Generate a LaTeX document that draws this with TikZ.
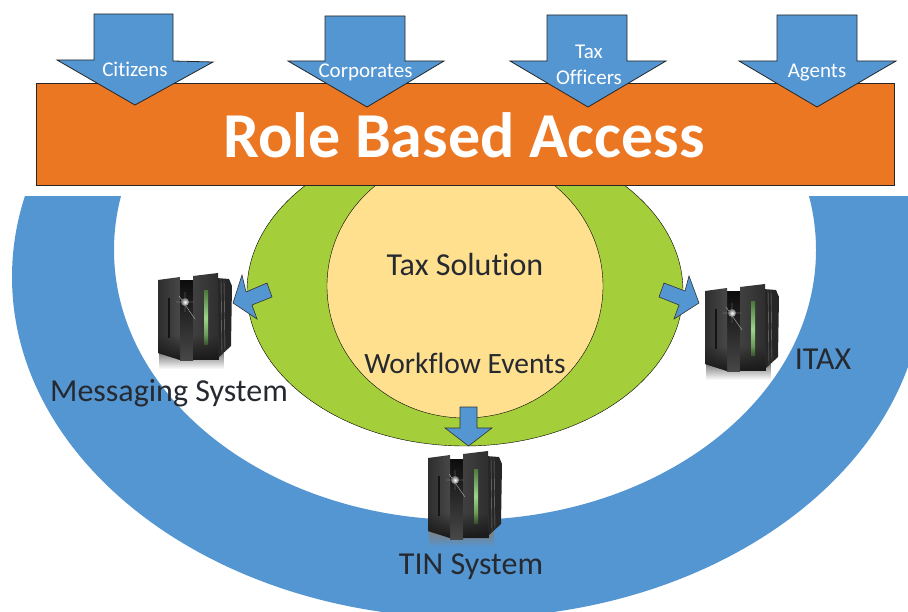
\documentclass[tikz,border=0pt]{standalone}
\usepackage{fontspec}
\setmainfont{Carlito}[Ligatures=NoCommon]
\usetikzlibrary{fadings}
\definecolor{bandblue}{HTML}{5496D2}
\definecolor{ovalgreen}{HTML}{A5CF3A}
\definecolor{coreyellow}{HTML}{FFE08F}
\definecolor{barorange}{HTML}{EC7723}
\definecolor{inkdark}{HTML}{262A30}
\definecolor{stripgreen}{HTML}{4E7A3C}
\definecolor{stripglow}{HTML}{9BD58A}
\tikzset{
	oval/.style={draw=black, thin},
	roofarrow/.style={draw=black!85, line width=0.8pt, fill=bandblue, line join=miter},
	sidearrow/.style={draw=black!80, line width=0.6pt, fill=bandblue, line join=miter},
	armlabel/.style={text=white, font=\fontsize{21}{23}\selectfont, align=center, inner sep=0pt},
	syslabel/.style={text=inkdark, font=\fontsize{32}{34}\selectfont, inner sep=0pt},
	pics/serverbox/.style={code={
		% shadow under the box
		\fill[black!50, path fading=south] (1,80) rectangle (66,96);
		% side panel
		\fill[black!85] (58,5) -- (71,6) -- (74,13) -- (73,73) -- (60,85) -- cycle;
		\draw[black!50, line width=0.4pt] (63,6) -- (64,81) (66,7) -- (67,78);
		% middle gap
		\shade[top color=black!95, bottom color=black!72] (22,8) rectangle (35,88);
		% right door
		\shade[left color=black!75, middle color=black!48, right color=black!82] (35,3) -- (60,0) -- (61,87) -- (35,87) -- cycle;
		\shade[top color=stripgreen, bottom color=stripgreen, middle color=stripglow] (46,18) rectangle (50,72);
		% left door
		\shade[left color=black!82, middle color=black!52, right color=black!72] (0,7) -- (22,4) -- (22,87) -- (0,80) -- cycle;
		\fill[black!92] (10,25) rectangle (12,65);
		% lower part of the doors goes dark
		\fill[black!90, path fading=north] (0,62) -- (22,62) -- (22,87) -- (0,80) -- cycle;
		\fill[black!90, path fading=north] (35,62) -- (60,62) -- (61,87) -- (35,87) -- cycle;
		% glint
		\draw[black!25, line width=0.35pt] (18,29) -- (36,29) (27,19) -- (27,39) (21,23) -- (37,46);
		\shade[inner color=white, middle color=white, outer color=black!60] (27,29) circle (4);
	}},
}
\begin{document}
\begin{tikzpicture}[x=1pt, y=-1pt]
	\useasboundingbox (0,0) rectangle (908,612);

	% outer band
	\begin{scope}
		\clip (0,197) rectangle (908,612);
		\fill[bandblue, even odd rule] (468,277) ellipse [x radius=456, y radius=341]
			(465,250) ellipse [x radius=351, y radius=270];
	\end{scope}

	\path[oval, fill=ovalgreen] (465,291) ellipse [x radius=218, y radius=155];
	\path[oval, fill=coreyellow] (465,286) ellipse [x radius=138, y radius=132];

	\path[draw=black!85, line width=0.8pt, fill=barorange] (36,83) rectangle (894,185);

	\path[roofarrow] (94,14) -- (173,14) -- (173,61) -- (213,62) -- (135,105) -- (57,60) -- (94,60) -- cycle;
	\path[roofarrow] (325,16) -- (405,16) -- (405,61) -- (444,61) -- (367,107) -- (288,61) -- (325,61) -- cycle;
	\path[roofarrow] (547,15) -- (627,15) -- (627,61) -- (666,61) -- (588,107) -- (510,61) -- (547,61) -- cycle;
	\path[roofarrow] (777,15) -- (857,15) -- (857,61) -- (896,61) -- (817,107) -- (739,61) -- (777,61) -- cycle;

	\path[sidearrow] (233,303) -- (242,275) -- (246,292) -- (267,283) -- (272,297) -- (252,305) -- (257,319) -- cycle;
	\path[sidearrow] (699,303) -- (689,276) -- (685,291) -- (664,283) -- (659,297) -- (679,305) -- (674,319) -- cycle;
	\path[sidearrow] (460,407) -- (477,407) -- (477,428) -- (492,428) -- (468.5,446) -- (445,428) -- (460,428) -- cycle;

	\pic (msgbox) at (158,273) {serverbox};
	\pic (itaxbox) at (705,284) {serverbox};
	\pic (tinbox) at (428,451) {serverbox};

	\node[armlabel] (citizens) at (135,69) {Citizens};
	\node[armlabel] (corporates) at (365.5,72) {Corporates};
	\node[armlabel, align=center, font=\fontsize{21}{26}\selectfont] (officers) at (589,65) {Tax\\Officers};
	\node[armlabel] (agents) at (817,73) {Agents};

	\node[text=white, inner sep=0pt, font=\fontsize{64}{66}\selectfont\bfseries] (access) at (464,135) {Role Based Access};

	\node[syslabel] (solution) at (465,265) {Tax Solution};
	\node[syslabel, font=\fontsize{29.5}{32}\selectfont] (events) at (465,363) {Workflow Events};
	\node[syslabel] (messaging) at (169,393) {Messaging System};
	\node[syslabel] (itax) at (823,359) {ITAX};
	\node[syslabel] (tin) at (471,567) {TIN System};
\end{tikzpicture}
\end{document}
